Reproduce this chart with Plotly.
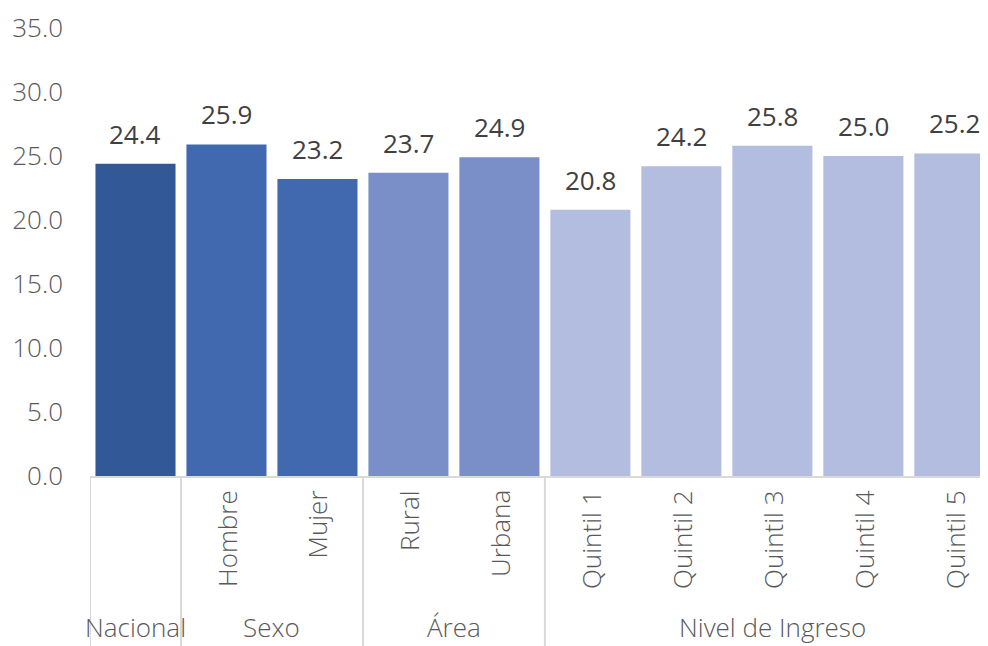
import plotly.graph_objects as go

categories = ["Nacional", "Hombre", "Mujer", "Rural", "Urbana",
              "Quintil 1", "Quintil 2", "Quintil 3", "Quintil 4", "Quintil 5"]
inner_labels = ["", "Hombre", "Mujer", "Rural", "Urbana",
                "Quintil 1", "Quintil 2", "Quintil 3", "Quintil 4", "Quintil 5"]
groups = ["Nacional", "Sexo", "Sexo", "Área", "Área",
          "Nivel de Ingreso", "Nivel de Ingreso", "Nivel de Ingreso", "Nivel de Ingreso", "Nivel de Ingreso"]
values = [24.4, 25.9, 23.2, 23.7, 24.9, 20.8, 24.2, 25.8, 25.0, 25.2]
group_colors = {"Nacional": "#325897", "Sexo": "#4169AF", "Área": "#7A8FC7", "Nivel de Ingreso": "#B3BDDF"}
y_ticks = [0, 5, 10, 15, 20, 25, 30, 35]

FONT = "Open Sans"
FS = 26
fig = go.Figure()
fig.add_trace(go.Bar(
    x=categories, y=values,
    marker=dict(color=[group_colors[g] for g in groups], line=dict(width=0)),
    hoverinfo="skip",
))

annotations = []
for c, v in zip(categories, values):
    annotations.append(dict(x=c, y=v, xref="x", yref="y", text=f"{v:.1f}",
                            showarrow=False, yanchor="bottom", yshift=10,
                            font=dict(family=FONT, size=FS, color="#404040")))
for i, lab in enumerate(inner_labels):
    if lab:
        annotations.append(dict(x=i, y=-0.027, xref="x", yref="paper", text=lab,
                                textangle=-90, showarrow=False, xanchor="center", yanchor="top",
                                font=dict(family=FONT, size=FS, color="#595959", weight=300)))
# group labels
seen = []
for g in groups:
    if g not in seen:
        seen.append(g)
for g in seen:
    idx = [i for i, gg in enumerate(groups) if gg == g]
    xc = (idx[0] + idx[-1]) / 2
    annotations.append(dict(x=xc, y=-0.338, xref="x", yref="paper", text=g,
                            showarrow=False, xanchor="center", yanchor="middle", borderpad=0,
                            font=dict(family=FONT, size=FS, color="#595959", weight=300)))

shapes = []
bounds = [-0.5]
for i in range(1, len(groups)):
    if groups[i] != groups[i - 1]:
        bounds.append(i - 0.5)
bounds.append(len(groups) - 0.5)
for b in bounds:
    shapes.append(dict(type="line", xref="x", yref="paper", x0=b, x1=b, y0=0, y1=-0.38,
                       line=dict(color="#D9D9D9", width=2)))

# page body has an 8px default margin: size the figure to the visible area
fig.update_layout(
    width=980, height=638,
    margin=dict(l=82, r=0, t=20, b=170),
    paper_bgcolor="white", plot_bgcolor="white",
    showlegend=False,
    bargap=0.12,
    annotations=annotations,
    shapes=shapes,
    xaxis=dict(type="category", range=[-0.5, 9.37], showticklabels=False, showgrid=False,
               showline=True, linecolor="#D9D9D9", linewidth=2, zeroline=False, fixedrange=True),
    yaxis=dict(range=[0, 35], tickvals=y_ticks, ticktext=[f"{t:.1f}" for t in y_ticks],
               showgrid=False, zeroline=False, showline=False,
               tickfont=dict(family=FONT, size=FS, color="#595959", weight=300),
               ticklabelstandoff=26, automargin=False),
)
fig.write_html("out.html")
